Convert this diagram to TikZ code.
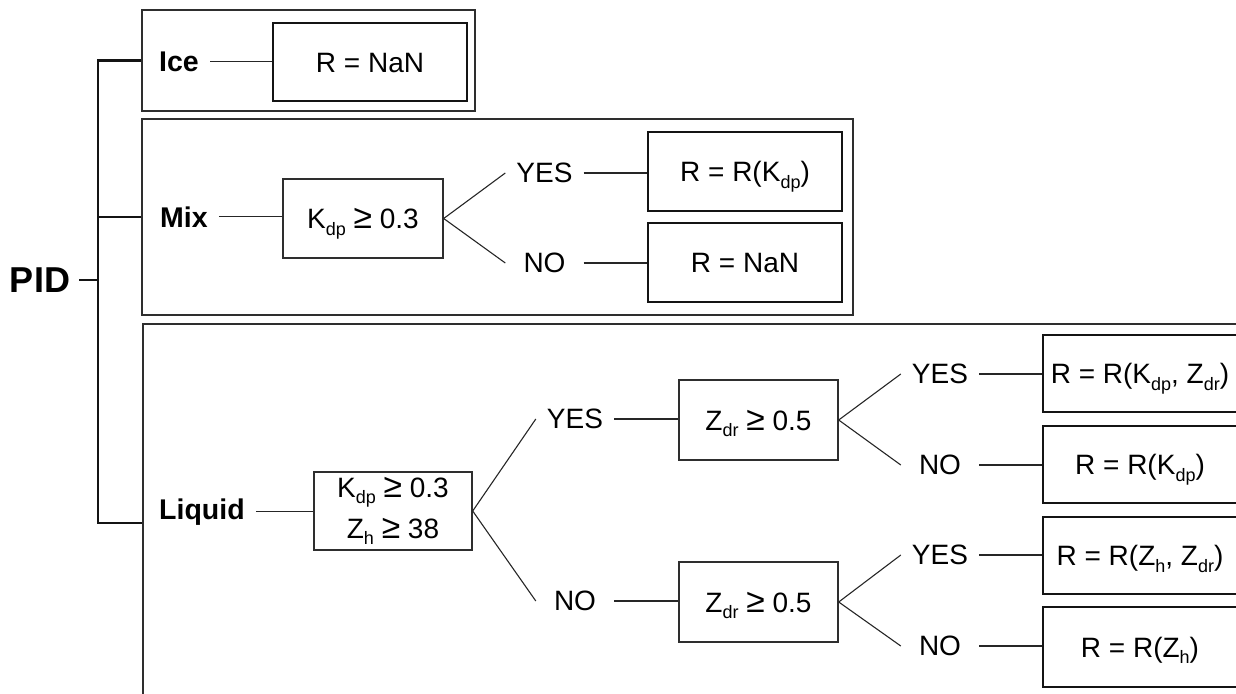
\documentclass[tikz,border=0pt]{standalone}
\usepackage{fontspec}
\setmainfont{Liberation Sans}
\newcommand\sbs[1]{\raisebox{-0.24em}{\fontsize{18}{18}\selectfont #1}}
\newcommand\geqs{\scalebox{1.2}{≥}}
\newcommand\rfont{\fontsize{28}{34}\selectfont}
\newcommand\lfont{\fontsize{28.5}{34}\selectfont\bfseries}
\begin{document}
\begin{tikzpicture}[x=1pt, y=-1pt, line join=miter,
  outer/.style={draw=black!82, line width=1.8pt, inner sep=0pt},
  res/.style={draw=black!92, line width=2.8pt, inner sep=0pt, font=\rfont,
    minimum width=194pt, text height=20pt, text depth=0pt},
  cond/.style={draw=black!82, line width=1.4pt, inner sep=0pt, font=\rfont},
  lbl/.style={font=\lfont, inner xsep=11pt, inner ysep=0pt, anchor=base west},
  yn/.style={font=\rfont, minimum width=78pt, inner sep=0pt},
  conn/.style={draw=black!85, line width=1.1pt},
  brk/.style={draw=black!92, line width=2.6pt}]
\useasboundingbox (0,0) rectangle (1236,693);
\clip (0,0) rectangle (1236,693);

% outer group boxes
\node[outer, minimum width=333pt, minimum height=101pt] (iceO) at (308.5,60.5) {};
\node[outer, minimum width=711pt, minimum height=196pt] (mixO) at (497.5,217) {};
\node[outer, minimum width=1200pt, minimum height=500pt] (liqO) at (743,574) {};

% PID and bracket
\node[font=\fontsize{36}{40}\selectfont\bfseries, inner xsep=9pt, inner ysep=0pt] (pid) at (40,280) {PID};
\coordinate (bt) at (98,60);
\coordinate (bb) at (98,523);
\draw[brk] (iceO.west) -- (iceO.west -| bt) -- (bb) -- (bb -| liqO.west);
\draw[brk] (mixO.west -| bt) -- (mixO.west);
\draw[brk] (pid.east) -- (pid.east -| bt);

% Ice
\node[lbl] (ice) at (148,71) {Ice};
\node[res, minimum height=78pt] (iR) at (370,62) {R = NaN};
\draw[conn] (ice.east) -- (ice.east -| iR.west);

% Mix
\node[lbl] (mix) at (149,227) {Mix};
\node[cond, minimum width=160pt, minimum height=79pt, text height=20pt, text depth=0pt] (mk) at (363,218.5) {K\sbs{dp} \geqs{} 0.3};
\node[yn] (my) at (544.5,173) {YES};
\node[yn] (mn) at (544.5,263) {NO};
\node[res, minimum height=79pt] (mr1) at (745,171.5) {R = R(K\sbs{dp})};
\node[res, minimum height=79pt] (mr2) at (745,262.5) {R = NaN};
\draw[conn] (mix.east) -- (mix.east -| mk.west);
\draw[conn] (mk.east) -- (my.west);
\draw[conn] (mk.east) -- (mn.west);
\draw[conn] (my.east) -- (my.east -| mr1.west);
\draw[conn] (mn.east) -- (mn.east -| mr2.west);

% Liquid
\node[lbl] (liq) at (148,519) {Liquid};
\node[cond, minimum width=158pt, minimum height=78pt, align=center,
  font=\fontsize{28}{41}\selectfont] (lc) at (393,511) {K\sbs{dp} \geqs{} 0.3\\Z\sbs{h} \geqs{} 38};
\node[yn] (ly) at (575,419) {YES};
\node[yn] (ln) at (575,601) {NO};
\node[cond, minimum width=159pt, minimum height=80pt, text height=20pt, text depth=0pt] (z1) at (758.5,420) {Z\sbs{dr} \geqs{} 0.5};
\node[cond, minimum width=159pt, minimum height=80pt, text height=20pt, text depth=0pt] (z2) at (758.5,602) {Z\sbs{dr} \geqs{} 0.5};
\draw[conn] (liq.east) -- (liq.east -| lc.west);
\draw[conn] (lc.east) -- (ly.west);
\draw[conn] (lc.east) -- (ln.west);
\draw[conn] (ly.east) -- (ly.east -| z1.west);
\draw[conn] (ln.east) -- (ln.east -| z2.west);

\node[yn] (y2) at (940,374) {YES};
\node[yn] (n2) at (940,465) {NO};
\node[yn] (y3) at (940,555) {YES};
\node[yn] (n3) at (940,646) {NO};
\node[res, minimum height=77pt] (r1) at (1140,373.5) {R = R(K\sbs{dp}, Z\sbs{dr})};
\node[res, minimum height=77pt] (r2) at (1140,464.5) {R = R(K\sbs{dp})};
\node[res, minimum height=77pt] (r3) at (1140,555.5) {R = R(Z\sbs{h}, Z\sbs{dr})};
\node[res, minimum height=80pt] (r4) at (1140,647) {R = R(Z\sbs{h})};
\draw[conn] (z1.east) -- (y2.west);
\draw[conn] (z1.east) -- (n2.west);
\draw[conn] (z2.east) -- (y3.west);
\draw[conn] (z2.east) -- (n3.west);
\draw[conn] (y2.east) -- (y2.east -| r1.west);
\draw[conn] (n2.east) -- (n2.east -| r2.west);
\draw[conn] (y3.east) -- (y3.east -| r3.west);
\draw[conn] (n3.east) -- (n3.east -| r4.west);
\end{tikzpicture}
\end{document}
